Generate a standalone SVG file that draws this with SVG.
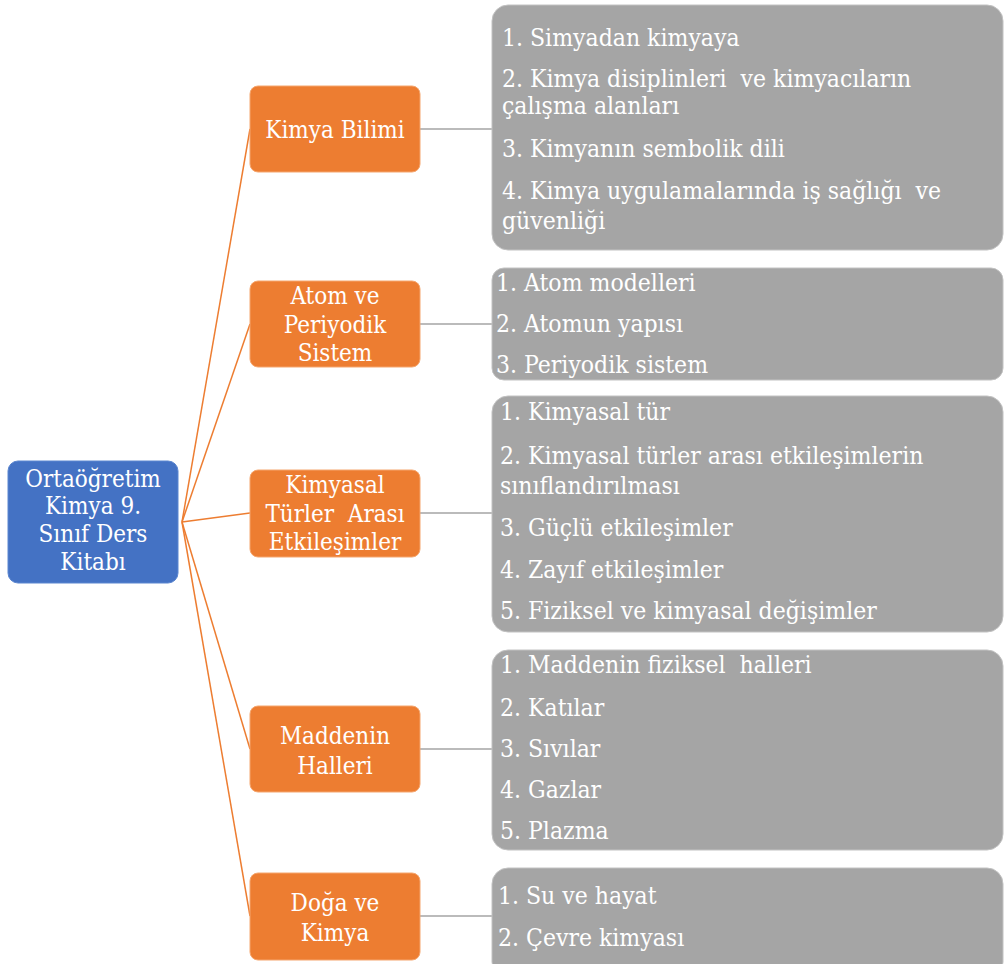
<svg xmlns="http://www.w3.org/2000/svg" width="1005" height="964" viewBox="0 0 1005 964">
<style>
.root{fill:#4472c4;stroke:#5b86d0;stroke-width:1}
.sec{fill:#ed7d31;stroke:#f5a66e;stroke-width:1}
.item{fill:#a5a5a5;stroke:#c2c2c2;stroke-width:1}
text{fill:#ffffff;font-family:"DejaVu Serif Condensed","DejaVu Serif",serif;font-stretch:condensed;white-space:pre}
.n{font-size:24px;text-anchor:middle}
.t{font-size:24.5px}
.oc{stroke:#ed7d31;stroke-width:1.5;fill:none}
.gc{stroke:#a5a5a5;stroke-width:1.6;fill:none}
</style>
<rect width="1005" height="964" fill="#ffffff"/>
<g id="connectors">
<path class="oc" d="M182 522 L250 129"/>
<path class="oc" d="M182 522 L250 324"/>
<path class="oc" d="M182 522 L250 513"/>
<path class="oc" d="M182 522 L250 749"/>
<path class="oc" d="M182 522 L250 916"/>
<path class="gc" d="M420 129 L492 129"/>
<path class="gc" d="M420 324 L492 324"/>
<path class="gc" d="M420 513 L492 513"/>
<path class="gc" d="M420 749 L492 749"/>
<path class="gc" d="M420 916 L492 916"/>
</g>
<g id="root">
<rect class="root" x="8" y="461" width="170" height="122" rx="10"/>
<text class="n" x="93" y="487">Ortaöğretim</text>
<text class="n" x="93" y="514">Kimya 9.</text>
<text class="n" x="93" y="542">Sınıf Ders</text>
<text class="n" x="93" y="570">Kitabı</text>
</g>
<g id="sec1">
<rect class="sec" x="250" y="86" width="170" height="86" rx="8"/>
<text class="n" x="335" y="138">Kimya Bilimi</text>
</g>
<g id="sec2">
<rect class="sec" x="250" y="281" width="170" height="86" rx="8"/>
<text class="n" x="335" y="304">Atom ve</text>
<text class="n" x="335" y="333">Periyodik</text>
<text class="n" x="335" y="361">Sistem</text>
</g>
<g id="sec3">
<rect class="sec" x="250" y="470" width="170" height="87" rx="8"/>
<text class="n" x="335" y="493">Kimyasal</text>
<text class="n" x="335" y="522">Türler  Arası</text>
<text class="n" x="335" y="550">Etkileşimler</text>
</g>
<g id="sec4">
<rect class="sec" x="250" y="706" width="170" height="86" rx="8"/>
<text class="n" x="335" y="744">Maddenin</text>
<text class="n" x="335" y="774">Halleri</text>
</g>
<g id="sec5">
<rect class="sec" x="250" y="873" width="170" height="87" rx="8"/>
<text class="n" x="335" y="911">Doğa ve</text>
<text class="n" x="335" y="941">Kimya</text>
</g>
<g id="items1">
<rect class="item" x="492" y="5" width="511" height="245" rx="16"/>
<text class="t" x="502" y="46">1. Simyadan kimyaya</text>
<text class="t" x="502" y="87">2. Kimya disiplinleri  ve kimyacıların</text>
<text class="t" x="502" y="114">çalışma alanları</text>
<text class="t" x="502" y="157">3. Kimyanın sembolik dili</text>
<text class="t" x="502" y="199">4. Kimya uygulamalarında iş sağlığı  ve</text>
<text class="t" x="502" y="229">güvenliği</text>
</g>
<g id="items2">
<rect class="item" x="492" y="268" width="511" height="112" rx="12"/>
<text class="t" x="496" y="291">1. Atom modelleri</text>
<text class="t" x="496" y="332">2. Atomun yapısı</text>
<text class="t" x="496" y="373">3. Periyodik sistem</text>
</g>
<g id="items3">
<rect class="item" x="492" y="396" width="511" height="236" rx="16"/>
<text class="t" x="500" y="420">1. Kimyasal tür</text>
<text class="t" x="500" y="464">2. Kimyasal türler arası etkileşimlerin</text>
<text class="t" x="500" y="494">sınıflandırılması</text>
<text class="t" x="500" y="536">3. Güçlü etkileşimler</text>
<text class="t" x="500" y="578">4. Zayıf etkileşimler</text>
<text class="t" x="500" y="619">5. Fiziksel ve kimyasal değişimler</text>
</g>
<g id="items4">
<rect class="item" x="492" y="650" width="511" height="200" rx="16"/>
<text class="t" x="500" y="673">1. Maddenin fiziksel  halleri</text>
<text class="t" x="500" y="716">2. Katılar</text>
<text class="t" x="500" y="757">3. Sıvılar</text>
<text class="t" x="500" y="798">4. Gazlar</text>
<text class="t" x="500" y="839">5. Plazma</text>
</g>
<g id="items5">
<rect class="item" x="492" y="868" width="511" height="110" rx="16"/>
<text class="t" x="498" y="904">1. Su ve hayat</text>
<text class="t" x="498" y="946">2. Çevre kimyası</text>
</g>
</svg>
